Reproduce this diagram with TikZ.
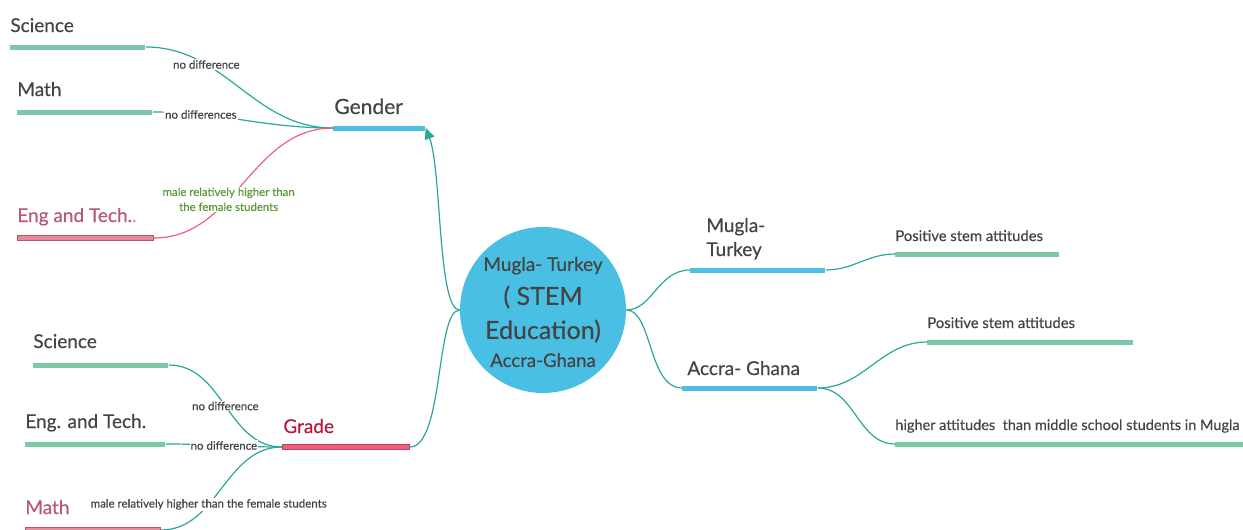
\documentclass[tikz,border=0pt]{standalone}
\usepackage{fontspec}
\setmainfont{Lato}[FakeBold=0.4]
\usetikzlibrary{arrows.meta,positioning}
\definecolor{tealLine}{HTML}{2AA79B}
\definecolor{roseLine}{HTML}{F0607E}
\definecolor{barGreen}{HTML}{7CC8A6}
\definecolor{barBlue}{HTML}{4BC0E2}
\definecolor{barRose}{HTML}{E98A9C}
\definecolor{barRoseEdge}{HTML}{B0566A}
\definecolor{barPink}{HTML}{F0607E}
\definecolor{barPinkEdge}{HTML}{C0405A}
\definecolor{hubBlue}{HTML}{49C0E3}
\definecolor{txtGrey}{HTML}{444444}
\definecolor{txtRose}{HTML}{B45A74}
\definecolor{txtRed}{HTML}{B5193F}
\definecolor{txtGreen}{HTML}{5A9A3A}
\tikzset{every picture/.style={line width=0.75pt}}

\begin{document}
\begin{tikzpicture}[x=1pt,y=1pt,yscale=-1,xscale=1,
  bar/.style={inner sep=0pt,minimum height=5pt,anchor=west},
  greenbar/.style={bar,fill=barGreen},
  bluebar/.style={bar,fill=barBlue},
  rosebar/.style={bar,fill=barRose,draw=barRoseEdge,line width=0.8pt},
  gradebar/.style={bar,fill=barPink,draw=barPinkEdge,line width=0.8pt},
  head/.style={anchor=base west,inner sep=0pt,text=txtGrey},
  big/.style={head,font=\fontsize{19}{24}\selectfont},
  mid/.style={head,font=\fontsize{14.8}{18}\selectfont},
  conn/.style={draw=tealLine,line width=1.2pt},
  note/.style={fill=white,inner sep=1pt,text=txtGrey,font=\fontsize{11.5}{14}\selectfont},
  hub/.style={circle,fill=hubBlue,minimum size=166pt,inner sep=0pt,align=center,text=txtGrey,font=\fontsize{25}{34}\selectfont}
]
\useasboundingbox (0,0) rectangle (1243,530);

% Hub
\node[hub] (hub) at (543,310) {\rule{0pt}{18pt}{\fontsize{19}{34}\selectfont Mugla- Turkey}\\( STEM\\Education)\\[-6pt]{\fontsize{18.6}{34}\selectfont Accra-Ghana}};

% Bars
\node[bluebar,minimum width=92pt] (gender) at (333,128) {};
\node[gradebar,minimum width=127pt] (grade) at (282,447) {};
\node[greenbar,minimum width=135pt] (sciG) at (10,47) {};
\node[greenbar,minimum width=135pt] (mathG) at (17,112) {};
\node[rosebar,minimum width=136pt] (engG) at (17,238) {};
\node[greenbar,minimum width=135pt] (sciR) at (33,365) {};
\node[greenbar,minimum width=140pt] (engR) at (25,444) {};
\node[rosebar,minimum width=135pt] (mathR) at (25,530) {};
\node[bluebar,minimum width=135pt] (mugla) at (690,270) {};
\node[bluebar,minimum width=135pt] (accra) at (682,388) {};
\node[greenbar,minimum width=164pt] (posA) at (895,254) {};
\node[greenbar,minimum width=206pt] (posB) at (927,342) {};
\node[greenbar,minimum width=360pt] (higher) at (895,444) {};

% Text Node
\node[head,font=\fontsize{21}{24}\selectfont] (genderT) at (334,114) {Gender};
\node[head,text=txtRed,font=\fontsize{19}{22}\selectfont] (gradeT) at (283,433) {Grade};
\node[big] (sciGT) at (10,32) {Science};
\node[big] (mathGT) at (17,96) {Math};
\node[big,text=txtRose] (engGT) at (17,222) {Eng and Tech{.}{\color{txtRose!60}.}};
\node[big] (sciRT) at (33,348) {Science};
\node[big] (engRT) at (25,428) {Eng. and Tech.};
\node[big,text=txtRose] (mathRT) at (25,514) {Math};
\node[big,align=left] (muglaT) at (706,256) {Mugla-\\Turkey};
\node[big] (accraT) at (687,375) {Accra- Ghana};
\node[mid] (posAT) at (895,241) {Positive stem attitudes};
\node[mid] (posBT) at (927,328) {Positive stem attitudes};
\node[mid,font=\fontsize{14.5}{18}\selectfont] (higherT) at (895,430) {higher attitudes \ than middle school students in Mugla};

% Connectors
\draw[conn,-{Triangle[length=11pt,width=10pt]}] (hub.west) .. controls +(-22,0) and +(16,42) .. (gender.east);
\draw[conn] (hub.west) .. controls +(-24,0) and +(34,0) .. (grade.east);
\draw[conn] (hub.east) .. controls +(26,0) and +(-32,0) .. (mugla.west);
\draw[conn] (hub.east) .. controls +(26,0) and +(-34,0) .. (accra.west);
\draw[conn] (mugla.east) to[out=0,in=180] (posA.west);
\draw[conn] (accra.east) to[out=0,in=180] (posB.west);
\draw[conn] (accra.east) to[out=0,in=180] (higher.west);
\draw[conn] (sciG.east) to[out=0,in=180] node[note,pos=0.3] {no difference} (gender.west);
\draw[conn] (mathG.east) to[out=0,in=180] node[note,pos=0.25] {no differences} (gender.west);
\draw[conn,draw=roseLine] (engG.east) to[out=0,in=180] node[note,pos=0.4,text=txtGreen,align=center,font=\fontsize{11.4}{15}\selectfont] {male relatively higher than\\the female students} (gender.west);
\draw[conn] (sciR.east) to[out=0,in=180] node[note,pos=0.5] {no difference} (grade.west);
\draw[conn] (engR.east) to[out=0,in=180] node[note,pos=0.5] {no difference} (grade.west);
\draw[conn] (mathR.east) to[out=0,in=180] node[note,pos=0.37] {male relatively higher than the female students} (grade.west);

\end{tikzpicture}
\end{document}
